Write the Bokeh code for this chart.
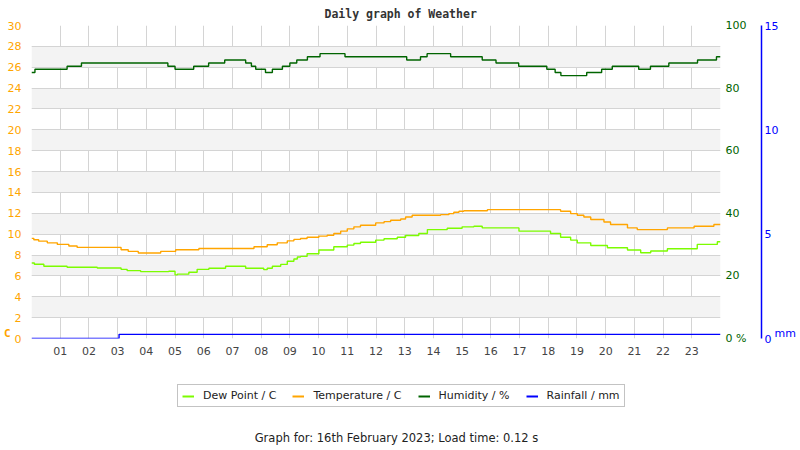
from bokeh.plotting import figure
from bokeh.models import (Range1d, LinearAxis, FixedTicker, Legend, LegendItem, Label)
from bokeh.layouts import column
from bokeh.embed import file_html
from bokeh.resources import INLINE

# ---- data (hours of the day, step changes) ----
temp_hours = [0.0, 0.08, 0.25, 0.55, 0.9, 1.3, 1.59, 3.12, 3.37, 3.72, 4.5, 5.02, 5.83, 7.75,
              8.21, 8.56, 8.91, 9.14, 9.37, 9.6, 10.01, 10.3, 10.53, 10.77, 11.0, 11.23, 11.46,
              11.99, 12.28, 12.51, 12.86, 13.03, 13.26, 14.25, 14.54, 14.71, 14.89, 15.06, 15.88,
              18.43, 18.78, 19.01, 19.24, 19.48, 19.94, 20.17, 20.76, 21.1, 22.15, 23.08, 23.77, 24.0]
temp_vals = [9.6, 9.46, 9.33, 9.17, 9.02, 8.86, 8.73, 8.5, 8.35, 8.19, 8.35, 8.5, 8.63, 8.8,
             8.98, 9.17, 9.36, 9.5, 9.59, 9.71, 9.81, 9.9, 10.06, 10.29, 10.51, 10.7, 10.86,
             11.08, 11.2, 11.33, 11.46, 11.65, 11.81, 11.87, 11.97, 12.1, 12.19, 12.25, 12.35,
             12.19, 11.97, 11.81, 11.65, 11.4, 11.17, 10.92, 10.6, 10.44, 10.6, 10.76, 10.92, 10.92]

dew_hours = [0.0, 0.1, 0.43, 1.24, 2.29, 3.12, 3.33, 3.8, 4.78, 5.0, 5.08, 5.48, 5.77, 6.18,
             6.76, 7.46, 8.09, 8.21, 8.39, 8.68, 8.91, 9.14, 9.26, 9.37, 9.6, 10.01, 10.53,
             11.0, 11.23, 11.46, 11.99, 12.28, 12.74, 13.03, 13.49, 13.79, 14.48, 15.0, 15.41,
             15.7, 16.98, 18.08, 18.43, 18.78, 19.01, 19.48, 20.06, 20.76, 21.22, 21.57, 22.15,
             23.19, 23.89, 24.0]
dew_vals = [7.24, 7.11, 6.92, 6.83, 6.76, 6.63, 6.51, 6.41, 6.45, 6.1, 6.17, 6.35, 6.63, 6.73,
            6.92, 6.73, 6.6, 6.73, 6.92, 7.1, 7.4, 7.62, 7.81, 7.87, 8.13, 8.48, 8.79,
            8.95, 9.11, 9.22, 9.43, 9.56, 9.71, 9.87, 10.06, 10.44, 10.57, 10.7, 10.76,
            10.6, 10.29, 10.06, 9.71, 9.43, 9.17, 8.92, 8.7, 8.48, 8.22, 8.38, 8.6,
            9.02, 9.27, 9.27]

hum_hours = [0.0, 0.12, 1.24, 1.74, 4.75, 5.0, 5.65, 6.17, 6.73, 7.46, 7.66, 7.81, 8.15, 8.39,
             8.74, 9.0, 9.24, 9.61, 10.05, 10.92, 13.07, 13.55, 13.78, 14.6, 15.7, 16.18, 16.97,
             17.95, 18.24, 18.44, 19.34, 19.86, 20.23, 21.15, 21.56, 22.2, 23.2, 23.86, 24.0]
hum_vals = [85, 86, 87, 88, 87, 86, 87, 88, 89, 88, 87, 86, 85, 86,
            87, 88, 89, 90, 91, 90, 89, 90, 91, 90, 89, 88, 87,
            86, 85, 84, 85, 86, 87, 86, 87, 88, 89, 90, 90]

rain_hours = [0.0, 3.05, 24.0]
rain_vals = [0.0, 0.2, 0.2]

temp_ticks = list(range(0, 31, 2))
hum_ticks = [0, 20, 40, 60, 80, 100]
rain_ticks = [0, 5, 10, 15]
hour_ticks = list(range(1, 24))
hour_labels = ["%02d" % h for h in hour_ticks]

temp_unit = "C"
hum_unit = "%"
rain_unit = "mm"

series_names = ["Dew Point / C", "Temperature / C", "Humidity / %", "Rainfall / mm"]
series_colors = ["#7cfc00", "#ffa500", "#006400", "#0000ff"]

title_text = "Daily graph of Weather"
footer_text = "Graph for: 16th February 2023; Load time: 0.12 s"

FONT = "DejaVu Sans"


def plain_axis(ax, color, standoff):
    ax.axis_line_color = None
    ax.major_tick_out = 0
    ax.major_tick_in = 0
    ax.minor_tick_out = 0
    ax.minor_tick_in = 0
    ax.major_label_text_font = FONT
    ax.major_label_text_font_size = "11px"
    ax.major_label_text_color = color
    ax.major_label_standoff = standoff


# ---- main chart ----
p = figure(width=800, height=370, output_backend="svg", toolbar_location=None,
           x_range=Range1d(0, 24), y_range=Range1d(0, 30),
           min_border_left=31, min_border_right=80, min_border_top=23, min_border_bottom=32)
p.outline_line_color = None
p.background_fill_color = "white"
p.border_fill_color = "white"
# "unit" range: frame pixels, shifted so the unit captions sit 5 px above the zero line
p.extra_y_ranges = {"hum": Range1d(0, 100), "rain": Range1d(0, 15), "unit": Range1d(-5, 310)}

# title
p.title.text = title_text
p.title.align = "left"
p.title.offset = 293
p.title.standoff = 9
p.title.text_font = "DejaVu Sans Mono"
p.title.text_font_style = "bold"
p.title.text_font_size = "11.5px"
p.title.text_color = "#333333"

# x axis
xa = p.xaxis[0]
xa.ticker = FixedTicker(ticks=hour_ticks)
xa.major_label_overrides = {t: l for t, l in zip(hour_ticks, hour_labels)}
plain_axis(xa, "#444444", 8)

# left axis
ya = p.yaxis[0]
ya.ticker = FixedTicker(ticks=temp_ticks)
plain_axis(ya, "#ffa500", 10)

# unit "C" as an outer left axis caption
ca = LinearAxis(y_range_name="unit", ticker=FixedTicker(ticks=[0]))
ca.major_label_overrides = {0: temp_unit}
plain_axis(ca, "#ffa500", -6)
ca.major_label_text_font = "DejaVu Sans Mono"
ca.major_label_text_font_style = "bold"
ca.major_label_text_font_size = "11px"
p.add_layout(ca, "left")

# humidity axis
ha = LinearAxis(y_range_name="hum", ticker=FixedTicker(ticks=hum_ticks))
ha.major_label_overrides = {0: "0 " + hum_unit}
plain_axis(ha, "#006400", 5)
ha.axis_label = " "
ha.axis_label_text_font_size = "7px"
ha.axis_label_standoff = 2
p.add_layout(ha, "right")

# rainfall axis
ra = LinearAxis(y_range_name="rain", ticker=FixedTicker(ticks=rain_ticks))
plain_axis(ra, "#0000ff", 3)
ra.axis_line_color = "#0000ff"
ra.axis_line_width = 1.5
p.add_layout(ra, "right")

# unit "mm" as an outer right axis caption
ma = LinearAxis(y_range_name="unit", ticker=FixedTicker(ticks=[0]))
ma.major_label_overrides = {0: rain_unit}
plain_axis(ma, "#0000ff", -7)
p.add_layout(ma, "right")

# grids
p.xgrid.ticker = FixedTicker(ticks=list(range(0, 25)))
p.ygrid.ticker = FixedTicker(ticks=temp_ticks)
p.xgrid.grid_line_color = "#d4d4d4"
p.ygrid.grid_line_color = "#d4d4d4"
p.ygrid.band_fill_color = "#f3f3f3"
p.ygrid.band_fill_alpha = 1.0

# series
p.step(dew_hours, dew_vals, mode="after", line_color=series_colors[0], line_width=1.4)
p.step(temp_hours, temp_vals, mode="after", line_color=series_colors[1], line_width=1.4)
p.step(hum_hours, hum_vals, mode="after", line_color=series_colors[2], line_width=1.4,
       y_range_name="hum")
p.step(rain_hours, rain_vals, mode="after", line_color=series_colors[3], line_width=1.4,
       y_range_name="rain")

# ---- legend + footer strip (x in page pixels, y from the strip top) ----
q = figure(width=800, height=80, output_backend="svg", toolbar_location=None,
           x_range=Range1d(31, 720), y_range=Range1d(80, 0),
           x_axis_location=None, y_axis_location=None,
           min_border=0, min_border_left=31, min_border_right=80,
           min_border_top=0, min_border_bottom=0)
q.outline_line_color = None
q.xgrid.visible = False
q.ygrid.visible = False
q.border_fill_color = "white"
# legend carriers: same series, on a range that keeps them out of view
q.extra_x_ranges = {"hours": Range1d(0, 24)}
q.extra_y_ranges = {"off": Range1d(1000, 2000)}
series_x = [dew_hours, temp_hours, hum_hours, rain_hours]
series_y = [dew_vals, temp_vals, hum_vals, rain_vals]
legend_renderers = [q.step(xs, ys, mode="after", line_color=c, line_width=2,
                           x_range_name="hours", y_range_name="off")
                    for xs, ys, c in zip(series_x, series_y, series_colors)]
legend = Legend(items=[LegendItem(label=n, renderers=[r]) for n, r in
                       zip(series_names, legend_renderers)],
                orientation="horizontal", location=(146, 43))
legend.padding = 4
legend.spacing = 16
legend.margin = 0
legend.glyph_width = 12
legend.glyph_height = 10
legend.label_standoff = 9
legend.label_height = 10
legend.label_text_font = FONT
legend.label_text_font_size = "11px"
legend.label_text_color = "#222222"
legend.border_line_color = "#888888"
legend.border_line_width = 1
legend.background_fill_color = "white"
legend.background_fill_alpha = 1.0
q.add_layout(legend, "center")

q.add_layout(Label(x=396, y=67, text=footer_text, text_align="center", text_baseline="middle",
                   text_font=FONT, text_font_size="11.5px", text_color="#222222"))

open("out.html", "w").write(file_html(column(p, q, spacing=0), INLINE))
